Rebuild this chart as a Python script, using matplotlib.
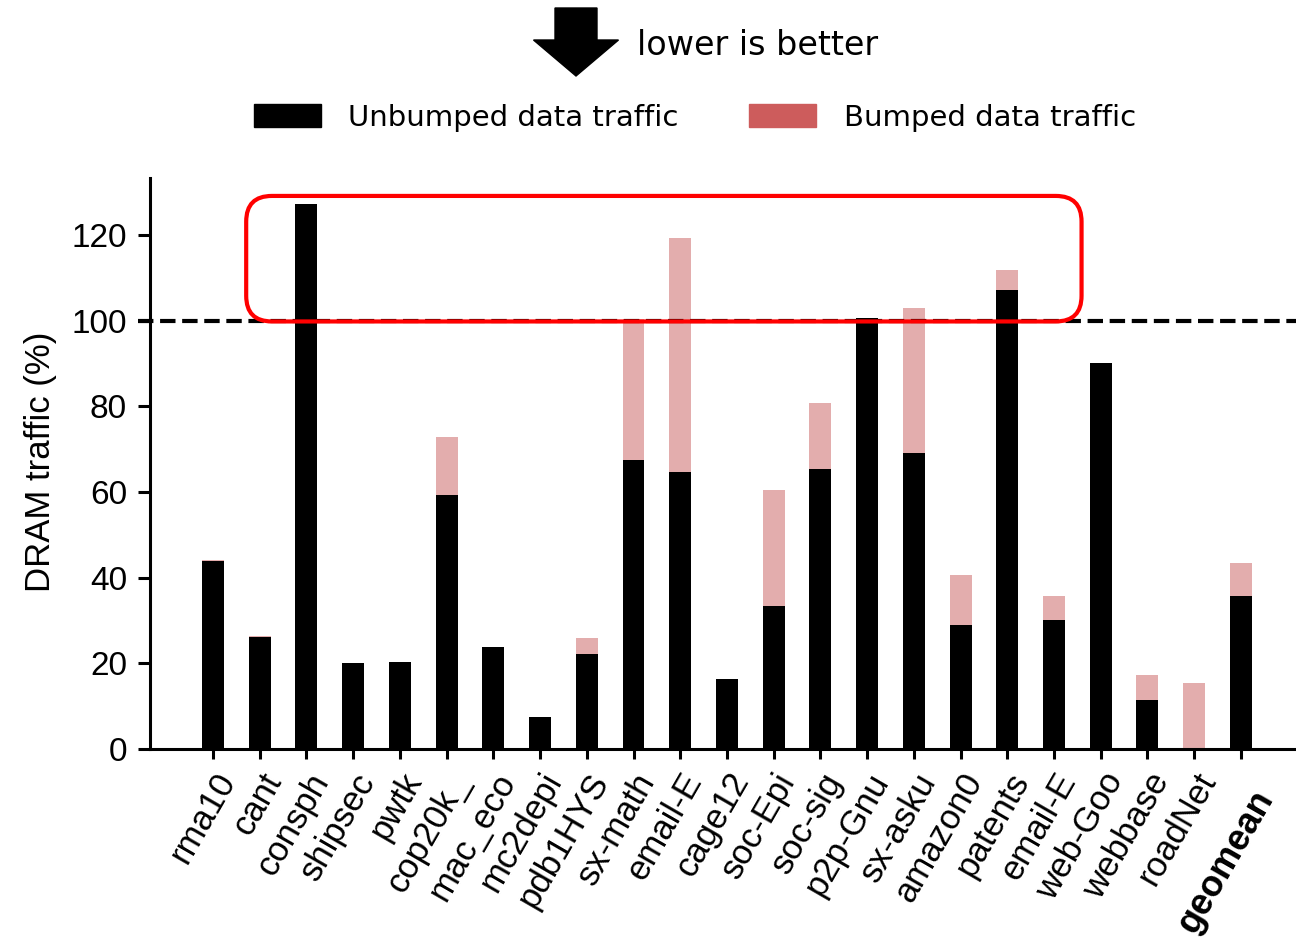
"""
DRAM traffic: unbumped vs bumped data traffic per matrix
"""

import numpy as np
import matplotlib
matplotlib.use('Agg')
import matplotlib.pyplot as plt
from matplotlib.patches import Patch, FancyBboxPatch, FancyArrow
from matplotlib.transforms import ScaledTranslation

# datos
benchmarks = ['rma10', 'cant', 'consph', 'shipsec', 'pwtk', 'cop20k_', 'mac_eco',
              'mc2depi', 'pdb1HYS', 'sx-math', 'email-E', 'cage12', 'soc-Epi',
              'soc-sig', 'p2p-Gnu', 'sx-asku', 'amazon0', 'patents', 'email-E',
              'web-Goo', 'webbase', 'roadNet', 'geomean']
unbumped = [43.9, 26.1, 127.3, 20.1, 20.2, 59.3, 23.8, 7.4, 22.1, 67.5, 64.6,
            16.4, 33.3, 65.4, 100.5, 69.2, 28.9, 107.1, 30.2, 90.2, 11.5, 0.0, 35.7]
bumped = [0.3, 0.2, 0.0, 0.0, 0.0, 13.5, 0.0, 0.0, 3.9, 32.8, 54.6,
          0.0, 27.2, 15.4, 0.0, 33.7, 11.6, 4.7, 5.6, 0.0, 5.7, 15.5, 7.7]
yticks = [0, 20, 40, 60, 80, 100, 120]
baseline = 100

# zona resaltada (indices de barra / valores)
box_x = (0.71, 18.59)
box_y = (99.8, 129.1)

plt.rcParams['font.family'] = ['Liberation Sans', 'DejaVu Sans']

fig = plt.figure(figsize=(12.96, 9.42), dpi=100)
ax = fig.add_axes([0.1157, 0.2049, 0.8843, 0.6062])

x = np.arange(len(benchmarks))
ax.bar(x, unbumped, width=0.47, color='black', zorder=2)
ax.bar(x, bumped, width=0.47, bottom=unbumped, color='#E3ADAD', zorder=2)

ax.set_ylim(0, 133.3)
ax.set_yticks(yticks)
ax.tick_params(axis='y', labelsize=24, length=8.5, width=2.2, pad=8)
ax.tick_params(axis='x', labelsize=25, length=7, width=2.2, pad=6)
ax.set_xticks(x)
ax.set_xticklabels(benchmarks, rotation=60, ha='right', rotation_mode='anchor', va='top')
lbl = ax.get_xticklabels()[-1]
lbl.set_fontweight('bold')
lbl.set_fontsize(26)
lbl.set_transform(lbl.get_transform() + ScaledTranslation(0.10, -0.17, fig.dpi_scale_trans))

for s in ['top', 'right']:
    ax.spines[s].set_visible(False)
for s in ['left', 'bottom']:
    ax.spines[s].set_linewidth(2.2)

ax.set_ylabel('DRAM traffic (%)', fontsize=25)
ax.yaxis.set_label_coords(-0.081, 0.503)

# linea de referencia 100%
ax.plot([-1.6, len(benchmarks) + 2], [baseline, baseline], color='black',
        linestyle='--', linewidth=3, zorder=3, clip_on=False)
ax.set_xlim(-1.35, len(benchmarks) - 1 + 1.18)

# recuadro rojo redondeado
fig.canvas.draw()
bb = ax.get_window_extent()
xr = ax.get_xlim()
yr = ax.get_ylim()
px_x = bb.width / (xr[1] - xr[0])
px_y = bb.height / (yr[1] - yr[0])
box = FancyBboxPatch((box_x[0], box_y[0]), box_x[1] - box_x[0], box_y[1] - box_y[0],
                     boxstyle='round,pad=0,rounding_size=0.55',
                     mutation_aspect=px_x / px_y,
                     facecolor='none', edgecolor='#FF0000', linewidth=3,
                     zorder=5, clip_on=False)
ax.add_patch(box)

# leyenda
handles = [Patch(color='black', label='Unbumped data traffic'),
           Patch(color='#CD5C5C', label='Bumped data traffic')]
fig.legend(handles=handles, loc='center', bbox_to_anchor=(0.536, 0.875), ncol=2,
           frameon=False, prop={'family': 'DejaVu Sans', 'size': 21},
           handlelength=2.3, handleheight=0.8, handletextpad=0.95, columnspacing=2.4)

# flecha "lower is better"
arrow = FancyArrow(5.76, 9.34, 0, -0.68, width=0.42, head_width=0.85, head_length=0.36,
                   length_includes_head=True, color='black', transform=fig.dpi_scale_trans)
fig.patches.append(arrow)
fig.text(0.4915, 0.952, 'lower is better', fontsize=24, family='DejaVu Sans',
         ha='left', va='center')

plt.savefig('out.png', dpi=100)
